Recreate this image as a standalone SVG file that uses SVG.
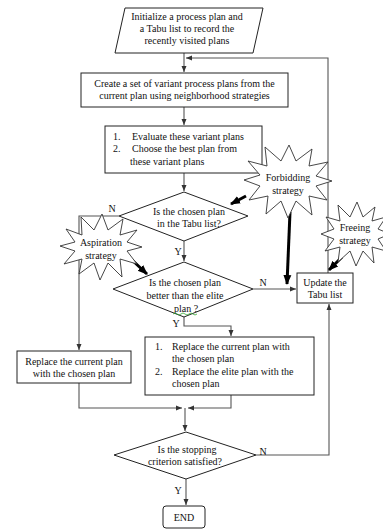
<svg xmlns="http://www.w3.org/2000/svg" width="383" height="529" viewBox="0 0 383 529">
<defs>
<style>
text{font-family:"Liberation Serif","Times New Roman",serif;font-size:10px;fill:#111}
.c{text-anchor:middle}
.box{fill:#fff;stroke:#222;stroke-width:1}
.ln{fill:none;stroke:#555;stroke-width:1.1}
.bold{fill:none;stroke:#000;stroke-width:3}
.star{fill:#fff;stroke:#333;stroke-width:0.9}
</style>
<marker id="a" markerUnits="userSpaceOnUse" markerWidth="6" markerHeight="6" refX="6" refY="3" orient="auto"><path d="M0,0.5 L6,3 L0,5.5 z" fill="#333"/></marker>
<marker id="b" markerUnits="userSpaceOnUse" markerWidth="10" markerHeight="10" refX="9" refY="5" orient="auto"><path d="M0,1 L10,5 L0,9 z" fill="#000"/></marker>
</defs>
<rect width="383" height="529" fill="#fff"/>
<g id="connectors">
<path class="ln" d="M184,53 V72" marker-end="url(#a)"/>
<path class="ln" d="M328,273 V58 H186" marker-end="url(#a)"/>
<path class="ln" d="M184,107 V125" marker-end="url(#a)"/>
<path class="ln" d="M184,173 V191" marker-end="url(#a)"/>
<path class="ln" d="M119,216 H79 V350" marker-end="url(#a)"/>
<path class="ln" d="M184,241 V261" marker-end="url(#a)"/>
<path class="ln" d="M253,289 H296" marker-end="url(#a)"/>
<path class="ln" d="M184,317 V326 H231 V336" marker-end="url(#a)"/>
<path class="ln" d="M79,383 V408 H182" marker-end="url(#a)"/>
<path class="ln" d="M231,395 V408 H188" marker-end="url(#a)"/>
<path class="ln" d="M185,408 V431" marker-end="url(#a)"/>
<path class="ln" d="M256,455 H329 V304" marker-end="url(#a)"/>
<path class="ln" d="M186,479 V505" marker-end="url(#a)"/>
<path class="bold" d="M246,196 L231,204" marker-end="url(#b)"/>
<path class="bold" d="M290,212 L287,284" marker-end="url(#b)"/>
<path class="bold" d="M132,260 L147,274" marker-end="url(#b)"/>
<path class="bold" d="M342,257 L329,270" marker-end="url(#b)"/>
<text x="112" y="212" class="c">N</text>
<text x="178" y="255" class="c">Y</text>
<text x="263" y="286" class="c">N</text>
<text x="176" y="327" class="c">Y</text>
<text x="263" y="455" class="c">N</text>
<text x="178" y="494" class="c">Y</text>
</g>
<g id="init">
<polygon class="box" points="125,8 263,8 253,53 115,53"/>
<text x="187" y="20" class="c">Initialize a process plan and</text>
<text x="187" y="32" class="c">a  Tabu list to record the</text>
<text x="187" y="44" class="c">recently visited plans</text>
</g>
<g id="create">
<rect class="box" x="81" y="73" width="207" height="34"/>
<text x="184.5" y="87" class="c">Create a set of variant process plans from the</text>
<text x="184.5" y="99" class="c">current plan using neighborhood strategies</text>
</g>
<g id="evaluate">
<rect class="box" x="105" y="126" width="157" height="47"/>
<text x="113" y="140">1.</text>
<text x="132" y="140">Evaluate these variant plans</text>
<text x="113" y="152">2.</text>
<text x="132" y="152">Choose the best plan from</text>
<text x="130" y="165">these variant plans</text>
</g>
<g id="tabu-check">
<polygon class="box" points="184,192 248,216 184,241 119,216"/>
<text x="189" y="215" class="c">Is the chosen plan</text>
<text x="189" y="227" class="c">in the Tabu list?</text>
</g>
<g id="elite-check">
<polygon class="box" points="184,262 253,289 184,317 113,289"/>
<text x="185" y="286" class="c">Is the chosen plan</text>
<text x="185" y="299" class="c">better than the elite</text>
<text x="186" y="312" class="c">plan ?</text>
<path d="M173,314 q2,-2 4,0 t4,0 t4,0 t4,0 t4,0 t4,0" fill="none" stroke="#3a3" stroke-width="0.8"/>
</g>
<g id="update">
<rect class="box" x="297" y="273" width="56" height="30"/>
<text x="325" y="286" class="c">Update the</text>
<text x="325" y="298" class="c">Tabu list</text>
</g>
<g id="replace-both">
<rect class="box" x="145" y="337" width="169" height="58"/>
<text x="155" y="350">1.</text>
<text x="172" y="350">Replace the current plan with</text>
<text x="172" y="362">the chosen plan</text>
<text x="155" y="375">2.</text>
<text x="172" y="375">Replace the elite plan with the</text>
<text x="172" y="387">chosen plan</text>
</g>
<g id="replace-current">
<rect class="box" x="17" y="351" width="114" height="32"/>
<text x="74" y="365" class="c">Replace the current plan</text>
<text x="74" y="377" class="c">with the chosen plan</text>
</g>
<g id="stop-check">
<polygon class="box" points="186,432 256,455 186,479 114,455"/>
<text x="187" y="453" class="c">Is the stopping</text>
<text x="185" y="465" class="c">criterion satisfied?</text>
</g>
<g id="end">
<rect class="box" x="163" y="506" width="42" height="22" rx="3"/>
<text x="184" y="521" class="c">END</text>
</g>
<g id="aspiration">
<polygon class="star" points="142,247 127,251 137,264 120,259 122,277 108,263 100,280 94,263 79,274 82,259 64,264 75,251 60,246 75,242 66,229 82,235 81,217 94,230 102,214 108,230 123,219 120,235 137,230 127,242"/>
<text x="101" y="246" class="c">Aspiration</text>
<text x="101" y="259" class="c">strategy</text>
</g>
<g id="forbidding">
<polygon class="star" points="332,181 316,186 327,200 309,196 312,215 296,201 288,218 281,201 266,214 268,196 249,200 260,186 244,180 260,175 248,161 267,166 265,147 281,161 289,145 296,161 312,149 309,166 328,162 316,176"/>
<text x="288" y="181" class="c">Forbidding</text>
<text x="288" y="194" class="c">strategy</text>
</g>
<g id="freeing">
<polygon class="star" points="390,234 378,239 386,251 372,247 374,263 363,251 356,266 350,251 338,262 340,247 325,251 334,239 321,234 334,229 326,217 340,221 338,205 350,217 357,202 363,217 375,207 372,221 386,217 378,229"/>
<text x="355" y="231" class="c">Freeing</text>
<text x="355" y="244" class="c">strategy</text>
</g>
</svg>
